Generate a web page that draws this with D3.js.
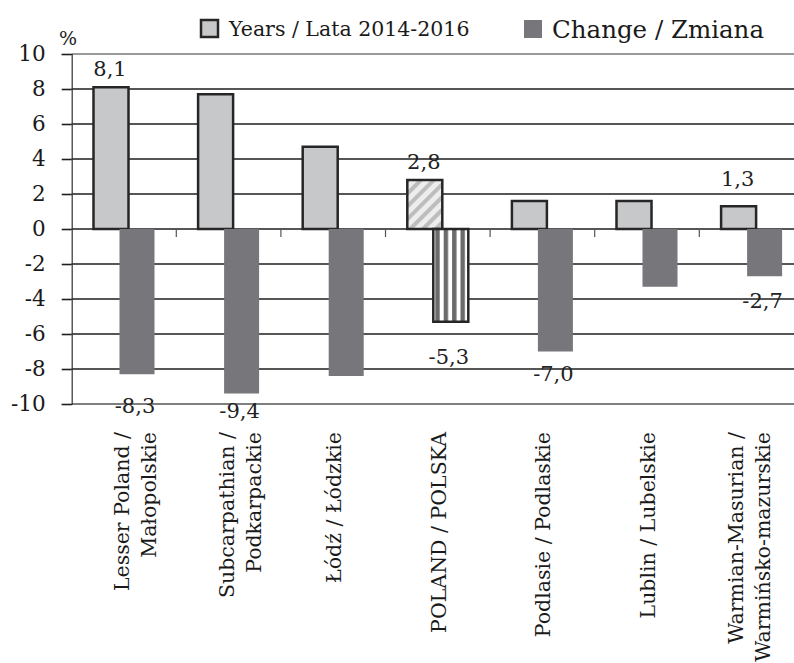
<!DOCTYPE html>
<html>
<head>
<meta charset="utf-8">
<script src="https://cdn.jsdelivr.net/npm/d3@7"></script>
<style>
  body { margin: 0; background: #fff; }
  svg { display: block; font-family: "DejaVu Serif", serif; }
</style>
</head>
<body>
<svg id="chart"></svg>
<script>
// data
const categoryLines = [
  ["Lesser Poland /", "Małopolskie"],
  ["Subcarpathian /", "Podkarpackie"],
  ["Łódź / Łódzkie"],
  ["POLAND / POLSKA"],
  ["Podlasie / Podlaskie"],
  ["Lublin / Lubelskie"],
  ["Warmian-Masurian /", "Warmińsko-mazurskie"]
];
const years = [8.1, 7.7, 4.7, 2.8, 1.6, 1.6, 1.3];
const change = [-8.3, -9.4, -8.4, -5.3, -7.0, -3.3, -2.7];
const yTicks = [-10, -8, -6, -4, -2, 0, 2, 4, 6, 8, 10];
const seriesNames = ["Years / Lata 2014-2016", "Change / Zmiana"];
const yearsLabelShown = [true, false, false, true, false, false, true];
const changeLabelShown = [true, true, false, true, true, false, true];
const highlightIndex = 3; // POLAND gets patterned bars

// label gaps as placed in the original
const yearsLabelGap = [11, 0, 0, 11, 0, 0, 20];
const changeLabelGap = [39, 24, 0, 42, 29, 0, 32];

const width = 794;
const height = 663;
const left = 71.7;
const step = 104.6;

const svg = d3.select('#chart')
  .attr('width', width)
  .attr('height', height);

const defs = svg.append('defs');

// diagonal hatch for POLAND years
const hatch = defs.append('pattern')
  .attr('id', 'hatch')
  .attr('patternUnits', 'userSpaceOnUse')
  .attr('width', 9)
  .attr('height', 9)
  .attr('patternTransform', 'rotate(45)');
hatch.append('rect').attr('width', 9).attr('height', 9).attr('fill', '#ededed');
hatch.append('rect').attr('width', 4).attr('height', 9).attr('fill', '#bdbdbd');

const x = d3.scaleBand()
  .domain(d3.range(categoryLines.length))
  .range([left, left + step * categoryLines.length])
  .paddingInner(0)
  .paddingOuter(0);

const y = d3.scaleLinear()
  .domain([-10, 10])
  .range([404, 54]);

const fmt = v => v.toFixed(1).replace('.', ',');
const center = i => x(i) + x.bandwidth() / 2;
const barW = 35;
const grayX = i => center(i) - 30.5;
const darkX = i => center(i) - 4.5;

// vertical stripes for POLAND change
const stripes = defs.append('pattern')
  .attr('id', 'stripes')
  .attr('patternUnits', 'userSpaceOnUse')
  .attr('x', darkX(highlightIndex) + 2)
  .attr('width', 8.4)
  .attr('height', 10);
stripes.append('rect').attr('width', 8.4).attr('height', 10).attr('fill', '#ffffff');
stripes.append('rect').attr('width', 4.4).attr('height', 10).attr('fill', '#6b6b6b');

// gridlines
svg.append('g')
  .selectAll('line')
  .data(yTicks)
  .enter()
  .append('line')
  .attr('x1', left)
  .attr('x2', width + 20)
  .attr('y1', d => y(d))
  .attr('y2', d => y(d))
  .attr('stroke', d => d === 10 ? '#9a9a9a' : (d === -10 ? '#555' : '#1e1e1e'))
  .attr('stroke-width', d => d === 10 ? 2 : 1.6);

// y axis
const yAxis = svg.append('g')
  .attr('transform', `translate(${left},0)`)
  .call(d3.axisLeft(y).tickValues(yTicks).tickSize(10).tickPadding(16).tickFormat(d => String(d)));
yAxis.select('.domain').attr('stroke', '#333').attr('stroke-width', 1.2);
yAxis.selectAll('.tick line').attr('stroke', '#1e1e1e').attr('stroke-width', 1.6);
yAxis.selectAll('.tick text')
  .attr('font-family', '"DejaVu Serif", serif')
  .attr('font-size', 21.5)
  .attr('fill', '#1a1a1a');

svg.append('text')
  .attr('x', 68)
  .attr('y', 45)
  .attr('text-anchor', 'middle')
  .attr('font-size', 19)
  .attr('fill', '#1a1a1a')
  .text('%');

// category boundary ticks on the zero line
svg.append('g')
  .selectAll('line')
  .data(d3.range(1, categoryLines.length))
  .enter()
  .append('line')
  .attr('x1', d => x(d))
  .attr('x2', d => x(d))
  .attr('y1', y(0))
  .attr('y2', y(0) + 8)
  .attr('stroke', '#555')
  .attr('stroke-width', 1.2);

// years bars
svg.append('g')
  .selectAll('rect')
  .data(years)
  .enter()
  .append('rect')
  .attr('x', (d, i) => grayX(i))
  .attr('width', barW)
  .attr('y', d => y(d))
  .attr('height', d => y(0) - y(d))
  .attr('fill', (d, i) => i === highlightIndex ? 'url(#hatch)' : '#c7c8ca')
  .attr('stroke', '#262626')
  .attr('stroke-width', 2.5);

// change bars
svg.append('g')
  .selectAll('rect')
  .data(change)
  .enter()
  .append('rect')
  .attr('x', (d, i) => darkX(i))
  .attr('width', barW)
  .attr('y', y(0))
  .attr('height', d => y(d) - y(0))
  .attr('fill', (d, i) => i === highlightIndex ? 'url(#stripes)' : '#77777b')
  .attr('stroke', (d, i) => i === highlightIndex ? '#262626' : 'none')
  .attr('stroke-width', 2.5);

// value labels
svg.append('g')
  .selectAll('text')
  .data(years.map((v, i) => ({ v, i })).filter(d => yearsLabelShown[d.i]))
  .enter()
  .append('text')
  .attr('x', d => grayX(d.i) + barW / 2 - 1)
  .attr('y', d => y(d.v) - yearsLabelGap[d.i])
  .attr('text-anchor', 'middle')
  .attr('font-size', 21)
  .attr('fill', '#222')
  .text(d => fmt(d.v));

svg.append('g')
  .selectAll('text')
  .data(change.map((v, i) => ({ v, i })).filter(d => changeLabelShown[d.i]))
  .enter()
  .append('text')
  .attr('x', d => darkX(d.i) + barW / 2 - 2)
  .attr('y', d => y(d.v) + changeLabelGap[d.i])
  .attr('text-anchor', 'middle')
  .attr('font-size', 21)
  .attr('fill', '#222')
  .text(d => fmt(d.v));

// category labels, rotated
const labelTop = 432;
const labels = svg.append('g')
  .selectAll('g')
  .data(categoryLines)
  .enter()
  .append('g');

labels.each(function (lines, i) {
  const g = d3.select(this);
  const n = lines.length;
  let base = n === 1 ? center(i) + 8 : center(i) + 5;
  const lastBase = base + (n - 1) * 27;
  if (lastBase > 770) base -= lastBase - 770;
  lines.forEach((line, k) => {
    const bx = base + k * 27;
    g.append('text')
      .attr('transform', `translate(${bx},${labelTop}) rotate(-90)`)
      .attr('text-anchor', 'end')
      .attr('font-size', 20.5)
      .attr('fill', '#1a1a1a')
      .text(line);
  });
});

// legend
const legend = svg.append('g');
legend.append('rect')
  .attr('x', 201).attr('y', 20).attr('width', 17).attr('height', 17)
  .attr('fill', '#c7c8ca').attr('stroke', '#262626').attr('stroke-width', 2.5);
legend.append('text')
  .attr('x', 229).attr('y', 36)
  .attr('font-size', 20.5).attr('fill', '#1a1a1a')
  .text(seriesNames[0]);
legend.append('rect')
  .attr('x', 524).attr('y', 20).attr('width', 18).attr('height', 18)
  .attr('fill', '#77777b');
legend.append('text')
  .attr('x', 552).attr('y', 38)
  .attr('font-size', 24.5).attr('fill', '#1a1a1a')
  .text(seriesNames[1]);
</script>
</body>
</html>
